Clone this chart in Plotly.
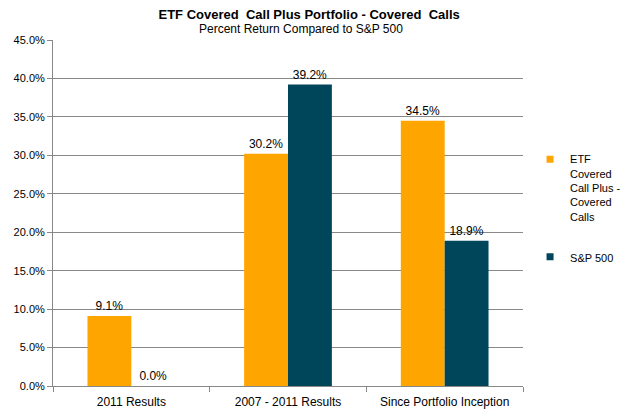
import plotly.graph_objects as go

categories = ["2011 Results", "2007 - 2011 Results", "Since Portfolio Inception"]
etf_values = [0.091, 0.302, 0.345]
sp_values = [0.0, 0.392, 0.189]
etf_name = "ETF<br>Covered<br>Call Plus -<br>Covered<br>Calls"
sp_name = "S&P 500"
y_ticks = [0, 0.05, 0.10, 0.15, 0.20, 0.25, 0.30, 0.35, 0.40, 0.45]
etf_color = "#FFA500"
sp_color = "#00465A"

FONT = "Liberation Sans, Arial, sans-serif"

fig = go.Figure()
fig.add_trace(go.Bar(
    x=categories, y=etf_values, name=etf_name,
    marker=dict(color=etf_color, line=dict(width=0)),
    texttemplate="%{y:.1%}", textposition="outside",
    textfont=dict(size=12, color="#000000", family=FONT),
    cliponaxis=False, showlegend=False,
))
fig.add_trace(go.Bar(
    x=categories, y=sp_values, name=sp_name,
    marker=dict(color=sp_color, line=dict(width=0)),
    texttemplate="%{y:.1%}", textposition="outside",
    textfont=dict(size=12, color="#000000", family=FONT),
    cliponaxis=False, showlegend=False,
))
# legend entries (small square keys, as in the reference)
fig.add_trace(go.Scatter(
    x=[None], y=[None], mode="markers", name=etf_name, legendgroup="a",
    marker=dict(symbol="square", size=7, color=etf_color),
))
fig.add_trace(go.Scatter(
    x=[None], y=[None], mode="markers", name=sp_name, legendgroup="b",
    marker=dict(symbol="square", size=7, color=sp_color),
))

fig.update_layout(
    width=640, height=418,
    margin=dict(l=53, r=117, t=40, b=32),
    paper_bgcolor="white", plot_bgcolor="white",
    barmode="group", bargap=0.44, bargroupgap=0,
    font=dict(family=FONT, size=11, color="#000000"),
    title=dict(
        text="<b>ETF Covered  Call Plus Portfolio - Covered  Calls</b>",
        x=0.483, xanchor="center", y=1 - 14 / 418, yanchor="middle",
        font=dict(size=13, family=FONT, color="#000000"),
    ),
    annotations=[dict(
        text="Percent Return Compared to S&amp;P 500",
        x=(301 - 53) / 470, xref="paper", xanchor="center",
        y=(386 - 29) / 346, yref="paper", yanchor="middle",
        showarrow=False, font=dict(size=12, family=FONT, color="#000000"),
    )],
    showlegend=True,
    legend=dict(
        x=1.015, xanchor="left", y=0.695, yanchor="top",
        font=dict(size=11, family=FONT, color="#000000"),
        tracegroupgap=23, itemwidth=30, bgcolor="rgba(0,0,0,0)",
        valign="top", traceorder="grouped",
    ),
)
fig.update_yaxes(
    range=[0, 0.45], tickvals=y_ticks, tickformat=".1%",
    showgrid=True, gridcolor="#888888", gridwidth=1,
    showline=True, linecolor="#888888", linewidth=1,
    ticks="outside", ticklen=5, tickcolor="#888888",
    tickfont=dict(size=11, family=FONT, color="#000000"),
    zeroline=False, automargin=False,
)
fig.update_xaxes(
    type="category", showline=True, linecolor="#888888", linewidth=1,
    ticks="outside", ticklen=5, tickcolor="#888888", tickson="boundaries",
    tickfont=dict(size=12, family=FONT, color="#000000"),
    ticklabelstandoff=5, showgrid=False, automargin=False,
)

fig.write_html("out.html", config={"displayModeBar": False},
               post_script="document.body.style.margin='0';")
